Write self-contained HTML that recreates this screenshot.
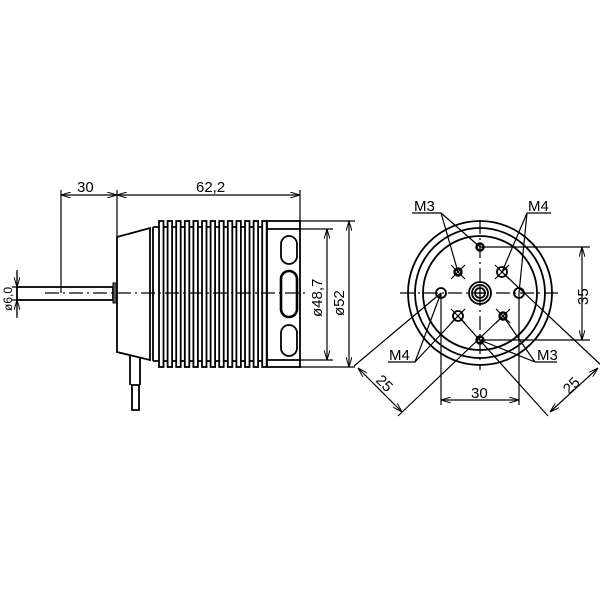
<!DOCTYPE html>
<html><head><meta charset="utf-8"><style>html,body{margin:0;padding:0;background:#fff}svg{display:block}text{font-family:"Liberation Sans",sans-serif;font-size:15px;fill:#000}</style></head>
<body>
<svg width="600" height="600" viewBox="0 0 600 600" xmlns="http://www.w3.org/2000/svg">
<defs>
<marker id="a" viewBox="0 0 10 6" refX="10" refY="3" markerWidth="10" markerHeight="6" orient="auto-start-reverse" markerUnits="userSpaceOnUse"><path d="M0,0L10,3L0,6" fill="none" stroke="#000" stroke-width="1"/></marker>
</defs>
<g fill="none" stroke="#000" stroke-width="1.8">
<rect x="17" y="287" width="96" height="13"/>
<rect x="113" y="283" width="4" height="20" fill="#555" stroke-width="1"/>
<path d="M117,237 L150,228 L150,360 L117,352 Z"/>
<path d="M130,355 V385 M140,357 V385 M132,385 V410 H139 V385 H131"/>
<path d="M153,227 H267 M153,361 H267 M153,227 V361"/>
<rect x="267" y="221" width="33" height="146"/>
<path d="M267,229 H300 M267,360 H300"/>
<rect x="281" y="236" width="16" height="28" rx="8"/>
<rect x="281" y="271" width="16" height="46" rx="8" stroke-width="2.6"/>
<rect x="281" y="325" width="16" height="31" rx="8"/>
</g>
<g stroke="#000" stroke-width="1.8">
<rect x="159.0" y="221" width="4.5" height="146" fill="#fff"/>
<rect x="167.6" y="221" width="4.5" height="146" fill="#fff"/>
<rect x="176.2" y="221" width="4.5" height="146" fill="#fff"/>
<rect x="184.8" y="221" width="4.5" height="146" fill="#fff"/>
<rect x="193.4" y="221" width="4.5" height="146" fill="#fff"/>
<rect x="202.0" y="221" width="4.5" height="146" fill="#fff"/>
<rect x="210.6" y="221" width="4.5" height="146" fill="#fff"/>
<rect x="219.2" y="221" width="4.5" height="146" fill="#fff"/>
<rect x="227.8" y="221" width="4.5" height="146" fill="#fff"/>
<rect x="236.4" y="221" width="4.5" height="146" fill="#fff"/>
<rect x="245.0" y="221" width="4.5" height="146" fill="#fff"/>
<rect x="253.6" y="221" width="4.5" height="146" fill="#fff"/>
<rect x="262.2" y="221" width="4.5" height="146" fill="#fff"/>
</g>
<g fill="none" stroke="#000" stroke-width="1.2">
<path d="M45,293 H305" stroke-dasharray="14,4,2,4"/>
<path d="M61,190 V293 M117,190 V237 M300,190 V221"/>
<path d="M61,195 H117" marker-start="url(#a)" marker-end="url(#a)"/>
<path d="M117,195 H300" marker-start="url(#a)" marker-end="url(#a)"/>
<path d="M300,229 H333 M300,360 H333 M300,221 H355 M300,367 H355"/>
<path d="M327,229 V360" marker-start="url(#a)" marker-end="url(#a)"/>
<path d="M349,221 V367" marker-start="url(#a)" marker-end="url(#a)"/>
<path d="M12,287 H17 M12,300 H17"/>
<path d="M17,270 V287 M17,300 V318" />
<path d="M17,272 V287" marker-end="url(#a)"/>
<path d="M17,316 V300" marker-end="url(#a)"/>
</g>
<text x="77" y="192">30</text>
<text x="196" y="192">62,2</text>
<text transform="translate(322,317) rotate(-90)">ø48,7</text>
<text transform="translate(344,316) rotate(-90)">ø52</text>
<text transform="translate(12,311) rotate(-90)" style="font-size:12px">ø6,0</text>

<g fill="none" stroke="#000" stroke-width="1.8">
<circle cx="480" cy="293" r="72"/>
<circle cx="480" cy="293" r="65"/>
<circle cx="480" cy="293" r="57"/>
<circle cx="480" cy="293" r="11"/>
<circle cx="480" cy="293" r="8"/>
<circle cx="480" cy="293" r="5"/>
<circle cx="441" cy="293" r="5"/>
<circle cx="519" cy="293" r="5"/>
<circle cx="480" cy="247" r="3.5" stroke-width="2.4"/>
<circle cx="480" cy="340" r="3.5" stroke-width="2.4"/>
<circle cx="458" cy="272" r="3.5" stroke-width="2.4"/>
<circle cx="503" cy="316" r="3.5" stroke-width="2.4"/>
<circle cx="502" cy="272" r="5"/>
<circle cx="458" cy="316" r="5"/>
</g>
<g fill="none" stroke="#000" stroke-width="1.2">
<path d="M475,293 H485 M480,288 V298"/>
<path d="M400,293 H560 M480,220 V370" stroke-dasharray="14,4,2,4"/>
<path d="M451,265 L465,279 M465,265 L451,279 M496,309 L510,323 M510,309 L496,323 M495,265 L509,279 M509,265 L495,279 M451,309 L465,323 M465,309 L451,323"/>
<path d="M412,213 H441 L458,272 M441,213 L480,247"/>
<path d="M527,213 H551 M527,213 L502,272 M527,213 L519,293"/>
<path d="M388,362 H415 L441,293 M415,362 L458,316"/>
<path d="M535,362 H557 M535,362 L503,316 M535,362 L480,340"/>
<path d="M480,247 H590 M480,340 H590"/>
<path d="M582,247 V340" marker-start="url(#a)" marker-end="url(#a)"/>
<path d="M441,293 V405 M519,293 V405"/>
<path d="M441,400 H519" marker-start="url(#a)" marker-end="url(#a)"/>
<path d="M441,293 L354,366 M503,316 L398,416"/>
<path d="M358,368 L402,412" marker-start="url(#a)" marker-end="url(#a)"/>
<path d="M502,272 L602,366 M458,316 L548,416"/>
<path d="M550,412 L598,368" marker-start="url(#a)" marker-end="url(#a)"/>
</g>
<text x="414" y="211">M3</text>
<text x="528" y="211">M4</text>
<text x="389" y="360">M4</text>
<text x="537" y="360">M3</text>
<text transform="translate(588,305) rotate(-90)">35</text>
<text x="471" y="398">30</text>
<text transform="translate(375,381) rotate(45)">25</text>
<text transform="translate(569,395) rotate(-45)">25</text>
</svg>
</body></html>
